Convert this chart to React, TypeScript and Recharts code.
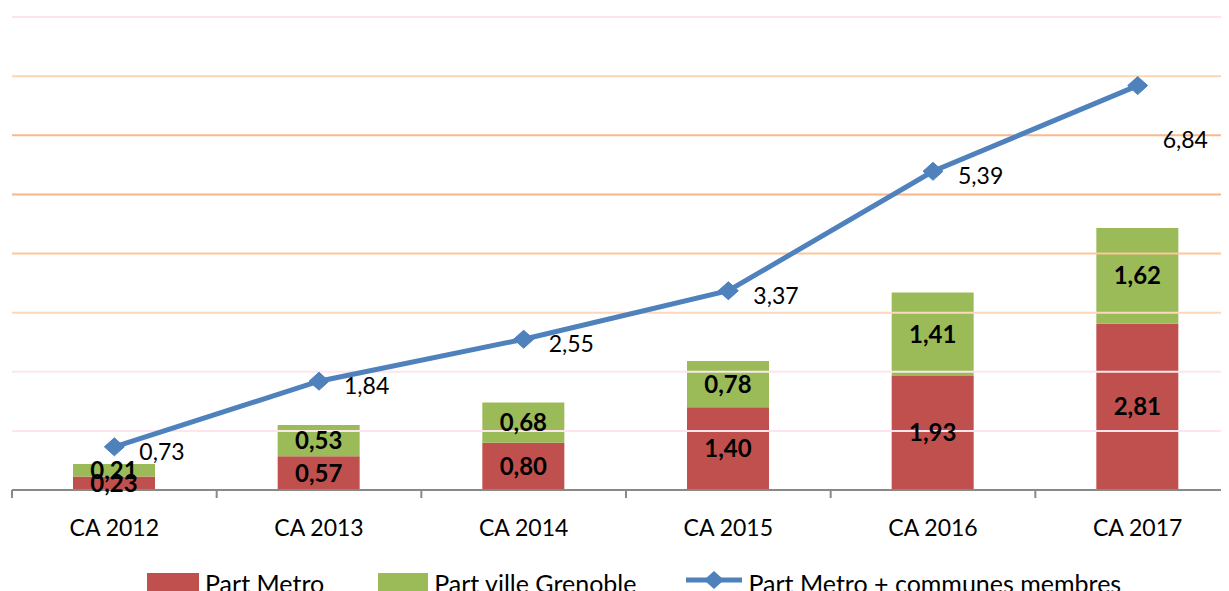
import React from 'react';
import { ComposedChart, Bar, Line, XAxis, YAxis, ReferenceLine, LabelList } from 'recharts';

const categories = ['CA 2012', 'CA 2013', 'CA 2014', 'CA 2015', 'CA 2016', 'CA 2017'];
const partMetro = [0.23, 0.57, 0.8, 1.4, 1.93, 2.81];
const partVille = [0.21, 0.53, 0.68, 0.78, 1.41, 1.62];
const partTotal = [0.73, 1.84, 2.55, 3.37, 5.39, 6.84];
const gridValues = [1, 2, 3, 4, 5, 6, 7, 8];
const gridColors = ['#fde4ee', '#fde4ee', '#fcd9bd', '#fbc89a', '#f8b68b', '#f9b98f', '#fcd5b4', '#fde3ee'];

const data = categories.map((c, i) => ({
  name: c,
  metro: partMetro[i],
  ville: partVille[i],
  total: partTotal[i],
}));

const FONT = 'Lato, "Open Sans", sans-serif';
const RED = '#c0504d';
const GREEN = '#9bbb59';
const BLUE = '#4f81bd';

const fmt = (v: any) => Number(v).toFixed(2).replace('.', ',');

const Diamond = (props: any) => {
  const { cx, cy } = props;
  if (cx == null || cy == null) return null;
  const w = 10;
  const h = 9;
  return (
    <polygon
      points={`${cx},${cy - h} ${cx + w},${cy} ${cx},${cy + h} ${cx - w},${cy}`}
      fill={BLUE}
      stroke={BLUE}
      strokeWidth={1}
    />
  );
};

const LineLabel = (props: any) => {
  const { x, y, value, index } = props;
  const dy = index === partTotal.length - 1 ? 53 : 4;
  return (
    <text
      x={x + 25}
      y={y + dy}
      fill="#000"
      fontSize={23}
      fontFamily={FONT}
      textAnchor="start"
      dominantBaseline="central"
    >
      {fmt(value)}
    </text>
  );
};

const Tick = (props: any) => {
  const { x, y, payload, index } = props;
  const half = payload && payload.offset ? payload.offset : 1228 / 12;
  return (
    <g>
      <line x1={x - half} y1={y} x2={x - half} y2={y + 8} stroke="#898989" strokeWidth={2} />
      {index === categories.length - 1 && (
        <line x1={x + half} y1={y} x2={x + half} y2={y + 8} stroke="#898989" strokeWidth={2} />
      )}
      <text
        x={x}
        y={y + 37}
        textAnchor="middle"
        dominantBaseline="central"
        fill="#000"
        fontSize={23}
        fontFamily={FONT}
      >
        {payload.value}
      </text>
    </g>
  );
};

const legendText: React.CSSProperties = {
  fontFamily: FONT,
  fontSize: 25,
  color: '#000',
  whiteSpace: 'nowrap',
};

export default function App() {
  return (
    <div style={{ position: 'relative', width: 1221, height: 583, overflow: 'hidden' }}>
      <ComposedChart
        width={1232}
        height={600}
        data={data}
        margin={{ top: 9, right: 0, left: 4, bottom: 0 }}
        barSize={82}
      >
        <XAxis
          dataKey="name"
          height={118}
          tickLine={false}
          tickSize={0}
          tickMargin={0}
          axisLine={{ stroke: '#898989', strokeWidth: 2 }}
          tick={<Tick />}
          interval={0}
        />
        <YAxis hide domain={[0, 8]} ticks={gridValues} />
        {gridValues.map((v, i) => (
          <ReferenceLine key={v} y={v} stroke={gridColors[i]} strokeWidth={2} />
        ))}
        <Bar dataKey="metro" stackId="a" fill={RED} isAnimationActive={false}>
          <LabelList
            dataKey="metro"
            position="center"
            formatter={fmt}
            fill="#000"
            fontSize={24}
            fontWeight="bold"
            fontFamily={FONT}
          />
        </Bar>
        <Bar dataKey="ville" stackId="a" fill={GREEN} isAnimationActive={false}>
          <LabelList
            dataKey="ville"
            position="center"
            formatter={fmt}
            fill="#000"
            fontSize={24}
            fontWeight="bold"
            fontFamily={FONT}
          />
        </Bar>
        <Line
          dataKey="total"
          stroke={BLUE}
          strokeWidth={5}
          dot={<Diamond />}
          activeDot={false}
          isAnimationActive={false}
        >
          <LabelList dataKey="total" content={<LineLabel />} />
        </Line>
      </ComposedChart>
      <div
        style={{
          position: 'absolute',
          left: 139,
          top: 565,
          display: 'flex',
          alignItems: 'flex-start',
        }}
      >
        <div style={{ width: 52, height: 30, background: RED, marginRight: 6 }} />
        <div style={{ ...legendText, marginRight: 54, marginTop: -5 }}>Part Metro</div>
        <div style={{ width: 50, height: 30, background: GREEN, marginRight: 6 }} />
        <div style={{ ...legendText, marginRight: 50, marginTop: -5 }}>Part ville Grenoble</div>
        <svg width={56} height={24} style={{ marginRight: 6, marginTop: -5 }}>
          <line x1={0} y1={12} x2={56} y2={12} stroke={BLUE} strokeWidth={5} />
          <polygon points="28,3 38,12 28,21 18,12" fill={BLUE} />
        </svg>
        <div style={{ ...legendText, marginTop: -5 }}>Part Metro + communes membres</div>
      </div>
    </div>
  );
}
